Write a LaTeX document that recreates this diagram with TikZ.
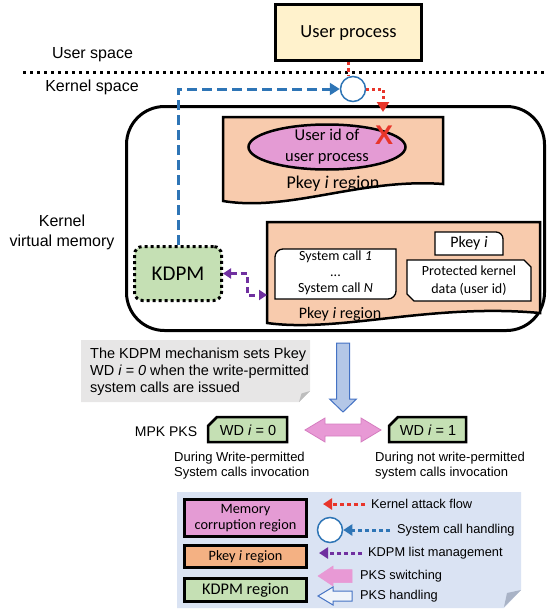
\documentclass[tikz,border=0pt]{standalone}
\usepackage{fontspec}
\setmainfont{Liberation Sans}
\newfontfamily\calfont{Carlito}
\usetikzlibrary{arrows.meta,shapes.geometric}

\definecolor{upyellow}{HTML}{FFF2CC}
\definecolor{pkfill}{HTML}{F8CBAD}
\definecolor{pkleg}{HTML}{F4B183}
\definecolor{memfill}{HTML}{E49BD4}
\definecolor{kdgreen}{HTML}{C5E0B4}
\definecolor{atkred}{HTML}{E8352A}
\definecolor{schblue}{HTML}{2E75B6}
\definecolor{klpurple}{HTML}{7030A0}
\definecolor{calloutgray}{HTML}{E7E6E6}
\definecolor{foldgray}{HTML}{BDBDBD}
\definecolor{legbg}{HTML}{DAE3F3}
\definecolor{legfold}{HTML}{A9B3C6}
\definecolor{pksblue}{HTML}{B4C7E7}
\definecolor{pksedge}{HTML}{4472C4}
\definecolor{pkspink}{HTML}{E899D5}
\definecolor{pinkedge}{HTML}{D57DC0}

\newcommand\setfs[2]{\fontsize{#1}{#2}\selectfont}

\tikzset{
  lbl/.style={inner sep=0pt},
  atkline/.style={draw=atkred, line width=3pt, dash pattern=on 3pt off 3pt},
  schline/.style={draw=schblue, line width=3pt, dash pattern=on 10pt off 5pt},
  klline/.style={draw=klpurple, line width=3pt, dash pattern=on 6pt off 4pt},
  legdot/.style={line width=3pt, dash pattern=on 4pt off 3pt},
  bighead/.style={-{Triangle[length=10pt,width=12pt]}},
  smallhead/.style={{Triangle[length=8pt,width=10pt]}-{Triangle[length=8pt,width=10pt]}},
  leghead/.style={-{Triangle[length=9pt,width=11pt]}},
  region/.style={draw, line width=2.5pt, fill=pkfill},
  thinbox/.style={draw, line width=1.3pt, fill=white},
  wdbox/.style={draw, line width=2.5pt, fill=kdgreen},
  legbox/.style={draw, line width=3pt, inner sep=0pt, align=center},
}

\begin{document}
\begin{tikzpicture}[x=1pt, y=-1pt]
\useasboundingbox (0,0) rectangle (548,610);

% user / kernel boundary
\node[draw, line width=3pt, fill=upyellow, minimum width=146pt, minimum height=56pt,
      font=\calfont\setfs{18.5}{22}] (up) at (348.5,33) {User process};
\node[lbl, font=\setfs{16}{19}] (us) at (92.5,55) {User space};
\node[lbl, font=\setfs{16}{19}] (ks) at (92,87) {Kernel space};
\draw[line width=3pt, dash pattern=on 3pt off 4pt] (23,72) -- (548,72);

% system call entry point
\node[circle, draw=schblue, line width=1.5pt, fill=white, minimum size=25pt, inner sep=0pt] (sc) at (353,89) {};

% kernel virtual memory
\node[draw, line width=3pt, rounded corners=38pt, minimum width=418pt, minimum height=224pt] (kvm) at (335.5,218.5) {};
\node[lbl, font=\setfs{16}{20}, align=center] (kvmlbl) at (62,232) {Kernel\\virtual memory};

% first Pkey region with the user id
\path[region] (223,117) -- (443,117) -- (443,184)
  .. controls (360,178) and (290,212) .. (223,201) -- cycle;
\node[ellipse, draw, line width=2.5pt, fill=memfill, minimum width=157pt, minimum height=45pt, inner sep=0pt] (uid) at (327,147) {};
\node[lbl, font=\calfont\setfs{16.5}{21}, align=center] (uidlbl) at (uid.center) {User id of\\user process};
\node[lbl, text=atkred, font=\bfseries\setfs{27}{27}] (xmark) at (384,135) {X};
\node[lbl, font=\calfont\setfs{18}{21}] (pk1lbl) at (333,184) {Pkey \textit{i} region};

% second Pkey region with the system calls and protected data
\path[region] (267,222) -- (540,222) -- (540,313)
  .. controls (430,303) and (340,333) .. (267,323) -- cycle;
\coordinate (pk2w) at (267,295);
\draw[thinbox] (275,299) -- (275,257) .. controls (275,252.6) and (278.6,249) .. (283,249)
  -- (396,249) -- (396,291) .. controls (396,295.4) and (392.4,299) .. (388,299) -- cycle;
\node[lbl, font=\calfont\setfs{14}{16}, align=center] (sys) at (335.5,273) {System call \textit{1}\\...\\System call \textit{N}};
\draw[thinbox] (435,232) -- (496,232) .. controls (499.9,232) and (503,235.1) .. (503,239)
  -- (503,255) -- (435,255) -- cycle;
\node[lbl, font=\calfont\setfs{16}{19}] (pkey) at (469,243.5) {Pkey \textit{i}};
\draw[thinbox] (407,260) -- (524,260) -- (531,267) -- (531,301) -- (414,301) -- (407,294) -- cycle;
\node[lbl, font=\calfont\setfs{14}{18}, align=center] (prot) at (469,280.5) {Protected kernel\\data (user id)};
\node[lbl, font=\calfont\setfs{16}{19}] (pk2lbl) at (340,314) {Pkey \textit{i} region};

% KDPM
\node[draw, line width=3pt, dash pattern=on 3pt off 3pt, rounded corners=8pt, fill=kdgreen,
      minimum width=87pt, minimum height=54pt, font=\calfont\setfs{21}{24}] (kdpm) at (178,273.5) {KDPM};

% flows
\coordinate (atk) at (383,112);
\draw[atkline] ([xshift=-5pt]sc.north |- up.south) -- ([xshift=-5pt]sc.north);
\draw[atkline, bighead] (sc.east) -| (atk);
\draw[schline, bighead] (kdpm.north) |- (sc.west);
\draw[klline, smallhead] (kdpm.east) -- ++(24,0) |- (pk2w);

% note on the KDPM mechanism
\fill[calloutgray] (81,340) -- (310,340) -- (310,391) -- (299,402) -- (81,402) -- cycle;
\fill[foldgray] (310,391) -- (299,402) -- (301.5,393.5) -- cycle;
\node[lbl, anchor=west, align=left, font=\setfs{14.5}{17}] (note) at (90,372)
  {The KDPM mechanism sets Pkey\\WD \textit{i = 0} when the write-permitted\\system calls are issued};

% PKS handling arrow
\draw[fill=pksblue, draw=pksedge, line width=1pt]
  (336.5,343) -- (349.5,343) -- (349.5,399) -- (356.5,399) -- (343,412)
  -- (329.5,399) -- (336.5,399) -- cycle;

% MPK PKS states
\node[lbl, font=\setfs{14}{17}] (mpk) at (166,432) {MPK PKS};
\draw[wdbox] (208,426) -- (217,417) -- (287,417) -- (287,442) -- (208,442) -- cycle;
\node[lbl, font=\setfs{14.5}{17}] (wd0) at (248,430) {WD \textit{i} = 0};
\draw[wdbox] (389,426) -- (398,417) -- (466,417) -- (466,442) -- (389,442) -- cycle;
\node[lbl, font=\setfs{14.5}{17}] (wd1) at (428,430) {WD \textit{i} = 1};
\draw[fill=pkspink, draw=pinkedge, line width=0.8pt]
  (305,430) -- (325,418) -- (325,424) -- (361,424) -- (361,418) -- (381,430)
  -- (361,442) -- (361,436) -- (325,436) -- (325,442) -- cycle;
\node[lbl, anchor=west, align=left, font=\setfs{13}{15}] (dur0) at (174,465.5)
  {During Write-permitted\\System calls invocation};
\node[lbl, anchor=west, align=left, font=\setfs{13}{15}] (dur1) at (375,465.5)
  {During not write-permitted\\system calls invocation};

% legend
\fill[legbg] (177,492) -- (521,492) -- (521,590) -- (504,608) -- (177,608) -- cycle;
\fill[legfold] (521,590) -- (504,607) -- (507,593) -- cycle;
\node[legbox, fill=memfill, minimum width=122pt, minimum height=37pt, font=\calfont\setfs{14.3}{16}] (lmem) at (245.5,518) {Memory\\corruption region};
\node[legbox, fill=pkleg, minimum width=122pt, minimum height=22pt, font=\calfont\setfs{14.3}{16}] (lpk) at (245.5,556.5) {Pkey \textit{i} region};
\node[legbox, fill=kdgreen, minimum width=122pt, minimum height=23pt, font=\calfont\setfs{16.3}{18}] (lkd) at (245.5,590) {KDPM region};

\node[lbl, anchor=west, font=\setfs{12.8}{15}] (l1) at (371,504) {Kernel attack flow};
\draw[legdot, draw=atkred, leghead] ([xshift=-6pt]l1.west) -- ++(-42,0);
\node[circle, draw=schblue, line width=1.5pt, fill=white, minimum size=25pt, inner sep=0pt] (lsc) at (330,530) {};
\node[lbl, anchor=west, font=\setfs{12.8}{15}] (l2) at (397,530) {System call handling};
\draw[legdot, draw=schblue, leghead] ([xshift=-7pt]l2.west) -- (lsc.east);
\node[lbl, anchor=west, font=\setfs{12.8}{15}] (l3) at (368,553) {KDPM list management};
\draw[legdot, draw=klpurple, leghead] ([xshift=-6pt]l3.west) -- ++(-43,0);
\node[lbl, anchor=west, font=\setfs{12.8}{15}] (l4) at (360,576) {PKS switching};
\draw[fill=pkspink, draw=pkspink, line width=0.5pt]
  (318,576) -- (333,566) -- (333,569.5) -- (352,569.5) -- (352,582.5) -- (333,582.5) -- (333,586) -- cycle;
\node[lbl, anchor=west, font=\setfs{12.8}{15}] (l5) at (360,596) {PKS handling};
\draw[fill=white!60!legbg, draw=pksedge, line width=1pt]
  (318,596) -- (333,587) -- (333,591) -- (352,591) -- (352,601) -- (333,601) -- (333,605) -- cycle;
\end{tikzpicture}
\end{document}
